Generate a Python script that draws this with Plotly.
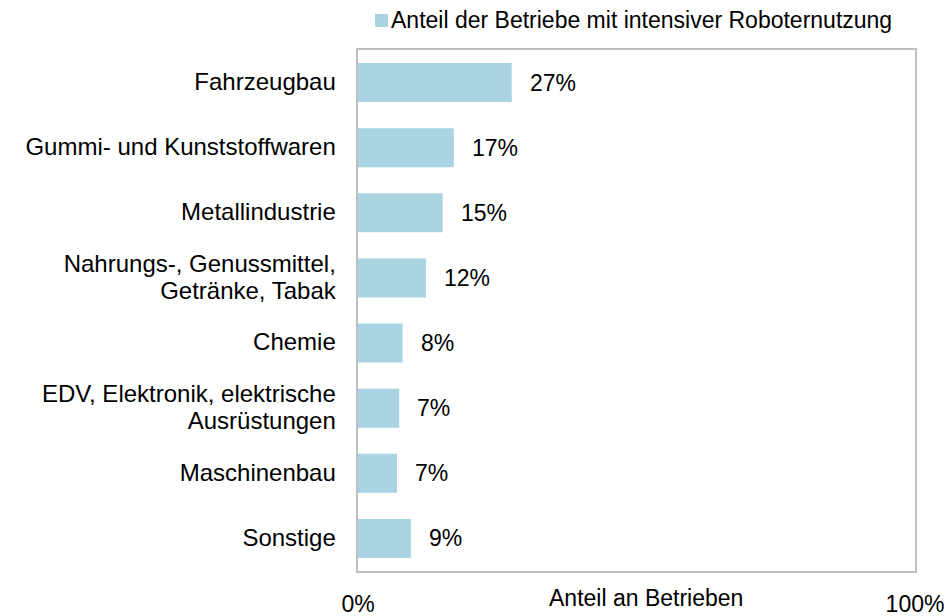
import plotly.graph_objects as go

categories = [
    "Fahrzeugbau",
    "Gummi- und Kunststoffwaren",
    "Metallindustrie",
    "Nahrungs-, Genussmittel,<br>Getränke, Tabak",
    "Chemie",
    "EDV, Elektronik, elektrische<br>Ausrüstungen",
    "Maschinenbau",
    "Sonstige",
]
values = [27.6, 17.2, 15.2, 12.2, 8.0, 7.4, 7.0, 9.5]
value_labels = ["27%", "17%", "15%", "12%", "8%", "7%", "7%", "9%"]
series_name = "Anteil der Betriebe mit intensiver Roboternutzung"
x_tick_vals = [0, 100]
x_tick_text = ["0%", "100%"]
x_title = "Anteil an Betrieben"

BAR = "#AAD4E1"
FONT = "Liberation Sans, Arial, sans-serif"
FS = 23
FS_CAT = 24
PW, PH = 557, 521  # plot area size in px

fig = go.Figure()
fig.add_trace(go.Bar(
    y=categories, x=values, orientation="h",
    marker=dict(color=BAR, line=dict(width=0)),
    name=series_name, showlegend=False,
))

for c, v, t in zip(categories, values, value_labels):
    fig.add_annotation(x=v, y=c, text=t, showarrow=False, xanchor="left",
                       xshift=16, font=dict(size=FS, color="#000", family=FONT))

# legend (manual)
fig.add_shape(type="rect", xref="paper", yref="paper",
              x0=17/PW, x1=30/PW, y0=1 + 23/PH, y1=1 + 36/PH,
              fillcolor=BAR, line=dict(width=0))
fig.add_annotation(xref="paper", yref="paper", x=31/PW, y=1 + 30/PH,
                   text=series_name, showarrow=False, xanchor="left", yanchor="middle",
                   font=dict(size=FS, color="#000", family=FONT))
# axis title
fig.add_annotation(xref="paper", yref="paper", x=288/PW, y=-27/PH,
                   text=x_title, showarrow=False, xanchor="center", yanchor="middle",
                   font=dict(size=FS, color="#000", family=FONT))

fig.update_layout(
    width=951, height=616,
    margin=dict(l=358, r=36, t=50, b=45, pad=0),
    paper_bgcolor="white", plot_bgcolor="white",
    font=dict(family=FONT, size=FS, color="#000"),
    bargap=0.4,
)
fig.update_xaxes(range=[0, 100], tickvals=x_tick_vals, ticktext=x_tick_text,
                 automargin=False,
                 showgrid=False, zeroline=False, showline=True, mirror=True,
                 linecolor="#BFBFBF", linewidth=2, ticks="", ticklabelstandoff=11,
                 tickfont=dict(size=FS, color="#000"))
fig.update_yaxes(autorange="reversed", automargin=False,
                 showgrid=False, zeroline=False,
                 showline=True, mirror=True, linecolor="#BFBFBF", linewidth=2,
                 ticks="", ticklabelstandoff=16,
                 tickvals=categories,
                 ticktext=[f'<span style="font-size:{FS_CAT}px">{c}</span>' for c in categories],
                 tickfont=dict(size=21, color="#000"))

fig.write_html("out.html", config={"displayModeBar": False},
               post_script="document.body.style.margin='0';")
